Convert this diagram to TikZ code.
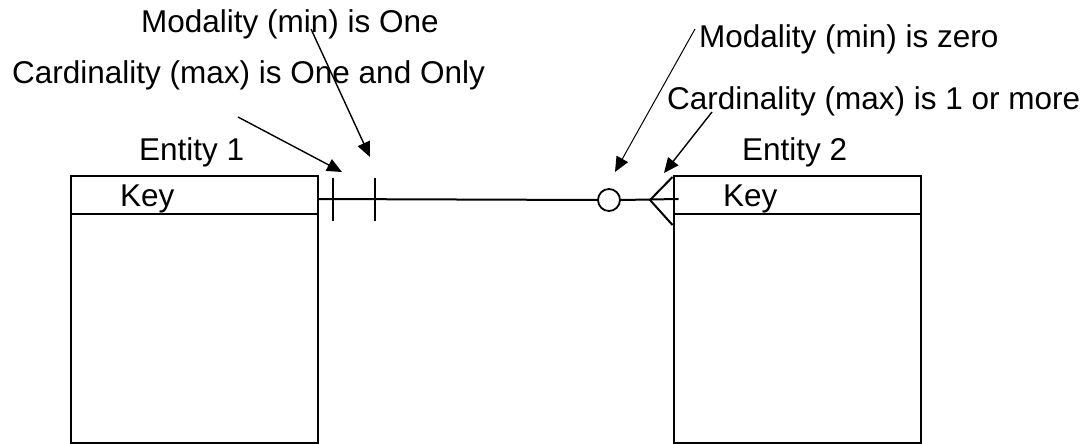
\documentclass[tikz,border=0pt]{standalone}
\usepackage{fontspec}
\setmainfont{Liberation Sans}
\usetikzlibrary{arrows.meta}
\begin{document}
\begin{tikzpicture}[x=1pt,y=-1pt,
    every node/.style={font=\fontsize{31.5pt}{38pt}\selectfont, inner sep=0pt},
    label/.style={anchor=base west},
    entity/.style={draw, line width=2pt, minimum width=247pt, minimum height=267pt},
    link/.style={line width=2pt},
    zero/.style={draw, circle, line width=1.8pt, minimum size=22pt},
    pointer/.style={line width=1.4pt, -{Triangle[length=15pt,width=13pt]}}]
  \useasboundingbox (0,0) rectangle (1092,444);

  % entities with their key rows
  \node[entity] (ent1) at (194.5,309.5) {};
  \node[entity] (ent2) at (797,309.5) {};
  \draw[link] ([yshift=-39pt]ent1.north west) -- ([yshift=-39pt]ent1.north east);
  \draw[link] ([yshift=-39pt]ent2.north west) -- ([yshift=-39pt]ent2.north east);
  \node[label] (key1) at (120,206) {Key};
  \node[label] (key2) at (723,206) {Key};
  \node[label] (name1) at (139,160) {Entity 1};
  \node[label] (name2) at (742,160) {Entity 2};

  % relationship line: one and only one ... zero or many
  \coordinate (j1) at ([yshift=-24pt,xshift=-2pt]ent1.north east);
  \coordinate (j2) at ([yshift=-24pt,xshift=6pt]ent2.north west);
  \node[zero] (z) at (609,200) {};
  \draw[link] (j1) -- (z.west);
  \draw[link] (z.east) -- (j2);
  \coordinate (apex) at (650,200);
  \draw[link] ([yshift=-2pt]ent2.north west) -- (apex) -- ([yshift=-50pt]ent2.north west);
  \coordinate (bar1t) at (333,178); \coordinate (bar1b) at (333,221);
  \coordinate (bar2t) at (375,178); \coordinate (bar2b) at (375,221);
  \draw[link] (bar1t) -- (bar1b);
  \draw[link] (bar2t) -- (bar2b);

  % annotations
  \node[label] (lmodone) at (141,33) {Modality (min) is One};
  \node[label] (lcardone) at (12,84) {Cardinality (max) is One and Only};
  \node[label] (lmodzero) at (699,48) {Modality (min) is zero};
  \node[label] (lcardmore) at (667,110) {Cardinality (max) is 1 or more};

  \coordinate (s1) at (238,117); \coordinate (t1) at (342,172);
  \coordinate (s2) at (311,29);  \coordinate (t2) at (370,157);
  \coordinate (s3) at (695,29);  \coordinate (t3) at (615,172);
  \coordinate (s4) at (712,112); \coordinate (t4) at (664,173);
  \draw[pointer] (s1) -- (t1);
  \draw[pointer] (s2) -- (t2);
  \draw[pointer, line width=1pt] (s3) -- (t3);
  \draw[pointer] (s4) -- (t4);
\end{tikzpicture}
\end{document}
